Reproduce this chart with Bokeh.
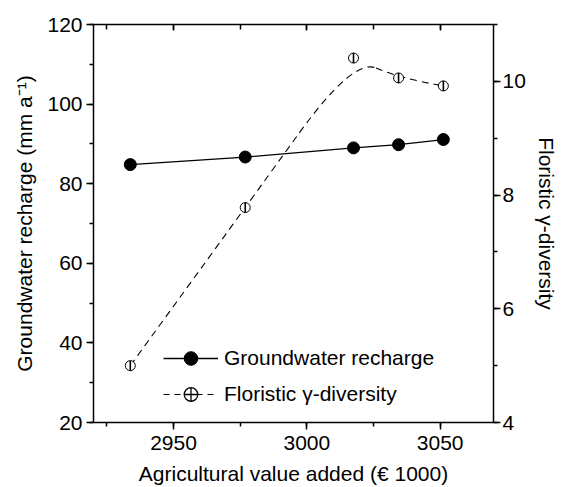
import math
from bokeh.plotting import figure
from bokeh.models import Range1d, LinearAxis, SingleIntervalTicker, Legend, LegendItem
from bokeh.embed import file_html
from bokeh.resources import INLINE

# ---- data ----
value_added = [2933.8, 2976.9, 3017.5, 3034.4, 3051.2]   # € 1000
recharge = [84.8, 86.7, 89.0, 89.8, 91.1]                # mm a-1
diversity = [5.0, 7.78, 10.41, 10.06, 9.92]              # floristic gamma-diversity

x_ticks_interval = 50
left_ticks_interval = 20
right_ticks_interval = 2

FONT = "Liberation Sans"
FS = "21px"

p = figure(width=561, height=487, output_backend="svg", toolbar_location=None,
           x_range=Range1d(2920, 3070), y_range=Range1d(20, 120),
           min_border_left=93, min_border_right=68, min_border_top=24, min_border_bottom=64,
           background_fill_color="white", border_fill_color="white")
p.extra_y_ranges = {"div": Range1d(4, 11)}
p.xgrid.visible = False
p.ygrid.visible = False
p.outline_line_color = None


def style_axis(ax, label=None):
    ax.axis_line_width = 1.5
    ax.axis_line_color = "black"
    ax.major_tick_line_color = "black"
    ax.minor_tick_line_color = "black"
    ax.major_tick_line_width = 1.5
    ax.minor_tick_line_width = 1.5
    ax.major_label_text_font = FONT
    ax.major_label_text_font_size = FS
    ax.major_label_text_color = "black"
    ax.axis_label_text_font = FONT
    ax.axis_label_text_font_size = FS
    ax.axis_label_text_font_style = "normal"
    ax.axis_label_text_color = "black"
    if label is not None:
        ax.axis_label = label


# bottom axis
xb = p.xaxis[0]
xb.ticker = SingleIntervalTicker(interval=x_ticks_interval, num_minor_ticks=2)
style_axis(xb, "Agricultural value added (€ 1000)")
xb.major_tick_out = 7
xb.major_tick_in = 0
xb.minor_tick_out = 4
xb.minor_tick_in = 0
xb.major_label_standoff = 6
xb.axis_label_standoff = 9
xb.axis_label_text_line_height = 0.7

# left axis
yl = p.yaxis[0]
yl.ticker = SingleIntervalTicker(interval=left_ticks_interval, num_minor_ticks=2)
style_axis(yl, "Groundwater recharge (mm a⁻¹)")
yl.major_tick_out = 7
yl.major_tick_in = 0
yl.minor_tick_out = 4
yl.minor_tick_in = 0
yl.major_label_standoff = 4
yl.axis_label_standoff = 8

# top axis (ticks only)
xt = LinearAxis(ticker=SingleIntervalTicker(interval=x_ticks_interval, num_minor_ticks=2))
style_axis(xt)
xt.major_tick_out = 0
xt.major_tick_in = 6
xt.minor_tick_out = 0
xt.minor_tick_in = 5
xt.major_label_text_font_size = "0px"
xt.major_label_standoff = 0
p.add_layout(xt, "above")

# right axis
yr = LinearAxis(y_range_name="div",
                ticker=SingleIntervalTicker(interval=right_ticks_interval, num_minor_ticks=2))
style_axis(yr, "Floristic γ-diversity")
yr.major_tick_out = 7
yr.major_tick_in = 0
yr.minor_tick_out = 4
yr.minor_tick_in = 0
yr.major_label_standoff = 2
yr.axis_label_standoff = 6
p.add_layout(yr, "right")

# ---- groundwater recharge ----
gw_line = p.line(value_added, recharge, line_color="black", line_width=1.3)
gw_pts = p.scatter(value_added, recharge, marker="circle", size=12,
                   fill_color="black", line_color="black")

# ---- floristic diversity: quadratic B-spline using the points as control polygon ----
n = len(value_added)
mid_x = [(value_added[i] + value_added[i + 1]) / 2 for i in range(1, n - 2)]
mid_y = [(diversity[i] + diversity[i + 1]) / 2 for i in range(1, n - 2)]
sx0 = [value_added[0]] + mid_x
sy0 = [diversity[0]] + mid_y
sx1 = mid_x + [value_added[-1]]
sy1 = mid_y + [diversity[-1]]
cx = value_added[1:n - 1]
cy = diversity[1:n - 1]
p.quadratic(x0=sx0, y0=sy0, x1=sx1, y1=sy1, cx=cx, cy=cy, y_range_name="div",
            line_color="black", line_width=1.1, line_dash="7 5")
p.scatter(value_added, diversity, y_range_name="div", marker="circle", size=10,
          fill_color="white", line_color="black", line_width=1)
p.scatter(value_added, diversity, y_range_name="div", marker="dash", size=10,
          angle=math.pi / 2, line_color="black", line_width=1.6)

# legend-only renderers for the diversity entry (NaN data: nothing drawn in the plot)
nan = float("nan")
leg_line = p.line(x=[nan], y=[nan], y_range_name="div", line_color="black",
                  line_width=1.1, line_dash="6 5")
leg_mark = p.scatter(x=[nan], y=[nan], y_range_name="div", marker="circle_cross",
                     fill_color="white", line_color="black", line_width=1.3)

legend = Legend(items=[
    LegendItem(label="Groundwater recharge", renderers=[gw_line, gw_pts]),
    LegendItem(label="Floristic γ-diversity", renderers=[leg_line, leg_mark]),
], location=(70, 11))
legend.glyph_width = 55
legend.glyph_height = 34
legend.spacing = 2
legend.padding = 0
legend.margin = 0
legend.label_standoff = 6
legend.label_text_font = FONT
legend.label_text_font_size = FS
legend.label_text_color = "black"
legend.border_line_color = None
legend.background_fill_alpha = 0
p.add_layout(legend, "center")

open("out.html", "w").write(file_html(p, INLINE))
